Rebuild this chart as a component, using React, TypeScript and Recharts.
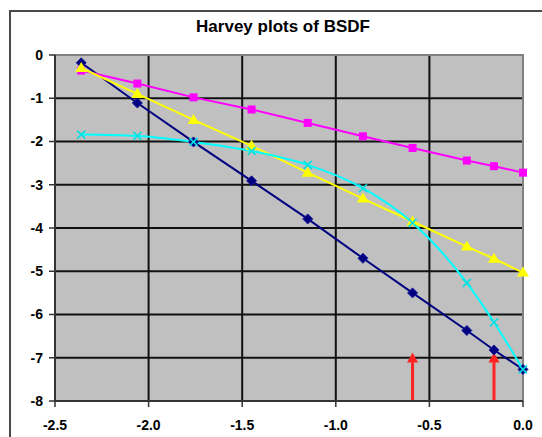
import React from "react";
import {
  LineChart,
  Line,
  XAxis,
  YAxis,
  CartesianGrid,
  ReferenceArea,
  ReferenceLine,
  ReferenceDot,
} from "recharts";

// log10 |beta - beta0| positions, shared by all four series
const X_VALUES = [-2.36, -2.06, -1.76, -1.45, -1.15, -0.855, -0.59, -0.3, -0.155, 0];

const NAVY = [-0.18, -1.11, -2.01, -2.91, -3.79, -4.7, -5.5, -6.37, -6.82, -7.27];
const MAGENTA = [-0.36, -0.66, -0.98, -1.26, -1.57, -1.88, -2.15, -2.44, -2.57, -2.72];
const YELLOW = [-0.3, -0.9, -1.5, -2.1, -2.72, -3.32, -3.85, -4.43, -4.71, -5.03];
const CYAN = [-1.84, -1.87, -2.01, -2.22, -2.54, -3.08, -3.88, -5.27, -6.18, -7.27];

const X_TICKS = [-2.5, -2.0, -1.5, -1.0, -0.5, 0.0];
const Y_TICKS = [0, -1, -2, -3, -4, -5, -6, -7, -8];

// red arrows marking the two specular points
const ARROW_X = [-0.59, -0.155];
const ARROW_TIP = -6.88;
const ARROW_BASE = -7.1;

const toPoints = (ys: number[]) => X_VALUES.map((x, i) => ({ x, y: ys[i] }));

const Diamond = (props: any) => {
  const { cx, cy } = props;
  if (cx == null || cy == null) return null;
  return (
    <polygon
      points={`${cx},${cy - 5} ${cx + 5},${cy} ${cx},${cy + 5} ${cx - 5},${cy}`}
      fill="#000080"
      stroke="#1a1a9a"
      strokeWidth={1}
    />
  );
};

const Square = (props: any) => {
  const { cx, cy } = props;
  if (cx == null || cy == null) return null;
  return <rect x={cx - 4} y={cy - 4} width={8} height={8} fill="#ff00ff" />;
};

const Triangle = (props: any) => {
  const { cx, cy } = props;
  if (cx == null || cy == null) return null;
  return (
    <polygon
      points={`${cx},${cy - 6} ${cx + 6},${cy + 4} ${cx - 6},${cy + 4}`}
      fill="#ffff00"
    />
  );
};

const Cross = (props: any) => {
  const { cx, cy } = props;
  if (cx == null || cy == null) return null;
  return (
    <g stroke="#00e0e0" strokeWidth={1.6}>
      <line x1={cx - 4} y1={cy - 4} x2={cx + 4} y2={cy + 4} />
      <line x1={cx - 4} y1={cy + 4} x2={cx + 4} y2={cy - 4} />
    </g>
  );
};

const ArrowHead = (props: any) => {
  const { cx, cy } = props;
  if (cx == null || cy == null) return null;
  return (
    <polygon
      points={`${cx},${cy} ${cx + 5.5},${cy + 10} ${cx - 5.5},${cy + 10}`}
      fill="#ff2222"
    />
  );
};

const tickStyle = { fill: "#000", fontSize: 14, fontWeight: 700, fontFamily: "Arial, 'Liberation Sans', sans-serif" };

export default function App() {
  return (
    <div
      style={{
        position: "absolute",
        left: 0,
        top: 0,
        width: 542,
        height: 437,
        background: "#fff",
        overflow: "hidden",
        fontFamily: "Arial, 'Liberation Sans', sans-serif",
      }}
    >
      <div
        style={{
          position: "absolute",
          left: 9,
          top: 10,
          width: 600,
          height: 500,
          borderLeft: "2px solid #4a4a4a",
          borderTop: "2px solid #4a4a4a",
        }}
      />
      <div
        style={{
          position: "absolute",
          left: 0,
          top: 17,
          width: 566,
          textAlign: "center",
          fontSize: 17,
          fontWeight: 700,
          lineHeight: "20px",
          color: "#000",
        }}
      >
        Harvey plots of BSDF
      </div>
      <LineChart
        width={542}
        height={437}
        margin={{ top: 55, right: 19, left: 10, bottom: 0 }}
        style={{ position: "absolute", left: 0, top: 0 }}
      >
        <CartesianGrid fill="#c0c0c0" stroke="#111" strokeWidth={2} />
        <ReferenceArea
          x1={-2.5}
          x2={0}
          y1={-8}
          y2={0}
          fill="none"
          stroke="#808080"
          strokeWidth={2}
        />
        <XAxis
          type="number"
          dataKey="x"
          domain={[-2.5, 0]}
          ticks={X_TICKS}
          tickFormatter={(v: number) => v.toFixed(1)}
          allowDuplicatedCategory={false}
          height={36}
          tick={tickStyle}
          tickSize={6}
          tickMargin={13}
          axisLine={{ stroke: "#333", strokeWidth: 2 }}
          tickLine={{ stroke: "#333", strokeWidth: 1.5 }}
        />
        <YAxis
          type="number"
          domain={[-8, 0]}
          ticks={Y_TICKS}
          width={45}
          tick={tickStyle}
          tickSize={6}
          tickMargin={6}
          axisLine={{ stroke: "#333", strokeWidth: 2 }}
          tickLine={{ stroke: "#333", strokeWidth: 1.5 }}
        />
        {ARROW_X.map((x) => (
          <ReferenceLine
            key={`l${x}`}
            segment={[
              { x, y: -8 },
              { x, y: ARROW_BASE },
            ]}
            stroke="#ff2222"
            strokeWidth={3}
          />
        ))}
        {ARROW_X.map((x) => (
          <ReferenceDot key={`d${x}`} x={x} y={ARROW_TIP} shape={ArrowHead} />
        ))}
        <Line
          data={toPoints(NAVY)}
          dataKey="y"
          type="linear"
          stroke="#000080"
          strokeWidth={2}
          dot={Diamond}
          activeDot={false}
          isAnimationActive={false}
        />
        <Line
          data={toPoints(MAGENTA)}
          dataKey="y"
          type="linear"
          stroke="#ff00ff"
          strokeWidth={2}
          dot={Square}
          activeDot={false}
          isAnimationActive={false}
        />
        <Line
          data={toPoints(YELLOW)}
          dataKey="y"
          type="linear"
          stroke="#ffff00"
          strokeWidth={2}
          dot={Triangle}
          activeDot={false}
          isAnimationActive={false}
        />
        <Line
          data={toPoints(CYAN)}
          dataKey="y"
          type="monotone"
          stroke="#00ffff"
          strokeWidth={2}
          dot={Cross}
          activeDot={false}
          isAnimationActive={false}
        />
      </LineChart>
    </div>
  );
}
